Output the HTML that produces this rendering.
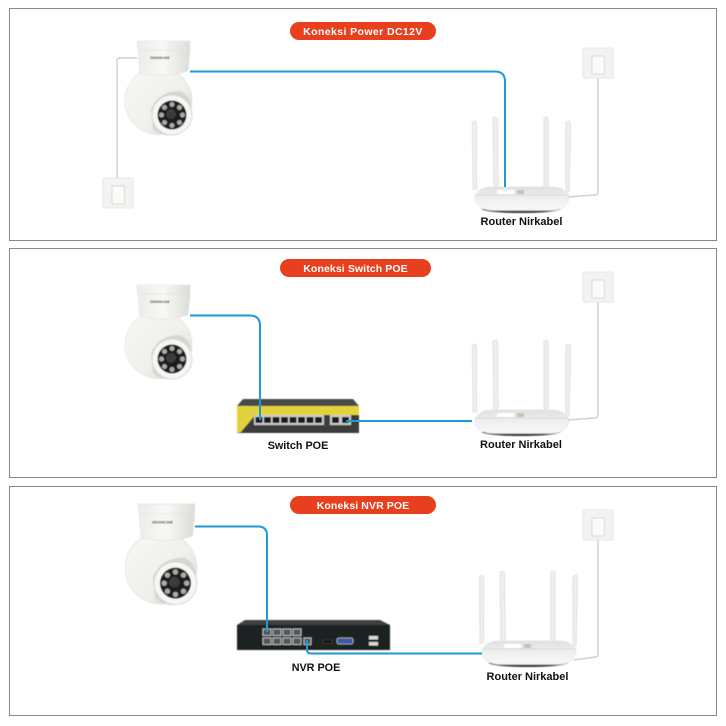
<!DOCTYPE html>
<html><head><meta charset="utf-8"><style>
html,body{margin:0;padding:0;background:#fff}
svg{display:block}
text{font-family:"Liberation Sans",Arial,sans-serif;font-weight:bold}
</style></head><body>
<svg xmlns="http://www.w3.org/2000/svg" width="726" height="726" viewBox="0 0 726 726">
<defs>
<filter id="b" x="-10%" y="-10%" width="120%" height="120%"><feGaussianBlur stdDeviation="0.5"/></filter>
<linearGradient id="ball" x1="0" y1="0" x2="1" y2="1"><stop offset="0" stop-color="#f8f8f6"/><stop offset="0.6" stop-color="#efefec"/><stop offset="1" stop-color="#cfcfca"/></linearGradient>
<linearGradient id="mnt" x1="0" y1="0" x2="1" y2="0"><stop offset="0" stop-color="#ececea"/><stop offset="0.5" stop-color="#f8f8f6"/><stop offset="1" stop-color="#dcdcd8"/></linearGradient>
<linearGradient id="rt" x1="0" y1="0" x2="0" y2="1"><stop offset="0" stop-color="#dfe0e0"/><stop offset="0.45" stop-color="#eeefef"/><stop offset="1" stop-color="#f8f8f8"/></linearGradient>
<g id="cam" filter="url(#b)">
<circle cx="21.5" cy="60" r="33.5" fill="url(#ball)" stroke="#dcdcd8" stroke-width="0.6"/>
<path d="M0 0 L53 0 L53 9 L51 30 Q30 37 3 32 L1 9Z" fill="url(#mnt)" stroke="#e0e0dc" stroke-width="0.6"/>
<path d="M1 9 L53 9" stroke="#e2e2de" stroke-width="0.8"/>
<text x="13" y="18" font-size="3.6" fill="#333">XIHANCAM</text>
<path d="M14 68 Q22 50 43 50 Q53 54 54 66 Q55 88 38 94 Q24 96 16 88Z" fill="#d6d6d2"/>
<circle cx="35" cy="74" r="20" fill="#f6f6f4" stroke="#cfcfcb" stroke-width="0.8"/>
<circle cx="35" cy="74" r="14.5" fill="#1d1d1f"/>
<circle cx="34" cy="73" r="5" fill="#3c3b3a"/>
<g fill="#a9aba8">
<circle cx="35" cy="63.5" r="2.5"/><circle cx="42.5" cy="66.5" r="2.5"/><circle cx="45.5" cy="74" r="2.5"/><circle cx="42.5" cy="81.5" r="2.5"/><circle cx="35" cy="84.5" r="2.5"/><circle cx="27.5" cy="81.5" r="2.5"/><circle cx="24.5" cy="74" r="2.5"/><circle cx="27.5" cy="66.5" r="2.5"/>
</g>
</g>
<g id="sock" filter="url(#b)">
<rect x="0" y="0" width="30" height="30" fill="#f3f3f1" stroke="#dededb" stroke-width="0.7"/>
<rect x="9" y="8" width="12.5" height="18" fill="#fbfbfa" stroke="#cfcfcc" stroke-width="0.8"/>
</g>
<g id="router">
<g fill="#f0f0ee" stroke="#cdcdcb" stroke-width="0.6" filter="url(#b)">
<path d="M-0.5 122 L2 121 L3.5 123 L3.5 189 L0 189Z"/>
<path d="M20 118 L23 117 L24.5 119 L25 186 L21 186Z"/>
<path d="M71 118 L74 117 L75 119 L75 186 L71 186Z"/>
<path d="M93 122 L96 121 L97.5 123 L96 192 L93 192Z"/>
</g>
<g filter="url(#b)">
<path d="M8 209 L88 209 Q80 213 48 213 Q16 213 8 209Z" fill="#3a3a3a"/>
<path d="M2 198 Q4 187 20 187 L78 187 Q93 187 96 198 Q94 210 78 210.5 L20 210.5 Q4 210 2 198Z" fill="url(#rt)" stroke="#d8d8d6" stroke-width="0.5"/>
<path d="M2 195 L96 195" stroke="#d0d0ce" stroke-width="0.7"/>
<rect x="24" y="190" width="17" height="4" fill="#fff"/>
<rect x="44" y="190" width="7" height="4" fill="#c7c2ad"/>
</g>
</g>
</defs>

<rect width="726" height="726" fill="#fff"/>
<g fill="#fff" stroke="#77797b" stroke-width="0.9">
<rect x="9.5" y="8.5" width="707" height="232"/>
<rect x="9.5" y="248.5" width="707" height="229"/>
<rect x="9.5" y="486.5" width="707" height="229"/>
</g>

<!-- pills -->
<g fill="#e8401f">
<rect x="290" y="22" width="146" height="18" rx="9"/>
<rect x="280" y="259" width="151" height="18" rx="9"/>
<rect x="290" y="496" width="146" height="18" rx="9"/>
</g>
<g fill="#fff" font-size="10.5" text-anchor="middle">
<text x="363" y="35" letter-spacing="0.4">Koneksi Power DC12V</text>
<text x="355.5" y="272" letter-spacing="0.1">Koneksi Switch POE</text>
<text x="363" y="509" letter-spacing="0.1">Koneksi NVR POE</text>
</g>

<!-- panel 1 -->
<path d="M137 58 L120 58 Q117 58 117 61 L117 180" fill="none" stroke="#d0d0ce" stroke-width="1.4"/>
<use href="#sock" x="103" y="178"/>
<use href="#cam" transform="translate(137,41)"/>
<path d="M598 76 L598 192 Q598 195 595 195 L567 197" fill="none" stroke="#d0d0ce" stroke-width="1.4"/>
<use href="#router" transform="translate(473,0)"/>
<use href="#sock" x="583" y="48"/>
<path d="M190 71.5 L495 71.5 Q505 71.5 505 81.5 L505 187" fill="none" stroke="#1d9bd6" stroke-width="2"/>
<text x="521.5" y="225" font-size="11" text-anchor="middle" fill="#111">Router Nirkabel</text>

<!-- panel 2 -->
<use href="#cam" transform="translate(137,285)"/>
<path d="M598 300 L598 415 Q598 418 595 418 L567 420" fill="none" stroke="#d0d0ce" stroke-width="1.4"/>
<use href="#router" transform="translate(473,223)"/>
<use href="#sock" x="583" y="272"/>
<g filter="url(#b)">
<path d="M243 399 L353 399 L359 406 L237 406Z" fill="#4a4b4b"/>
<rect x="237" y="406" width="122" height="27" fill="#3b3c3d"/>
<rect x="237" y="406" width="122" height="9" fill="#e3d23a"/>
<path d="M237 406 L256 406 L256 414 L241 432 L237 433Z" fill="#e3d23a"/>
<rect x="254" y="415" width="70" height="10" fill="#c8cacb"/>
<rect x="330" y="415" width="21" height="10" fill="#c8cacb"/>
<g fill="#1a1a1a">
<rect x="255.5" y="417" width="7" height="6"/><rect x="264" y="417" width="7" height="6"/><rect x="272.5" y="417" width="7" height="6"/><rect x="281" y="417" width="7" height="6"/><rect x="289.5" y="417" width="7" height="6"/><rect x="298" y="417" width="7" height="6"/><rect x="306.5" y="417" width="7" height="6"/><rect x="315" y="417" width="7" height="6"/>
<rect x="332" y="417" width="7" height="6"/><rect x="342" y="417" width="7" height="6"/>
</g>
</g>
<path d="M190 315.5 L250 315.5 Q260 315.5 260 325.5 L260 420" fill="none" stroke="#1d9bd6" stroke-width="2"/>
<path d="M346 421 L472 421" fill="none" stroke="#1d9bd6" stroke-width="2"/>
<text x="298" y="449" font-size="10.8" text-anchor="middle" fill="#111">Switch POE</text>
<text x="521" y="448" font-size="11" text-anchor="middle" fill="#111">Router Nirkabel</text>

<!-- panel 3 -->
<use href="#cam" transform="translate(138,504) scale(1.07)"/>
<path d="M598 538 L598 654 Q598 657 595 657 L574 660" fill="none" stroke="#d0d0ce" stroke-width="1.4"/>
<use href="#router" transform="translate(480,454)"/>
<use href="#sock" x="583" y="510"/>
<g filter="url(#b)">
<path d="M245 620 L380 620 L390 625 L237 625Z" fill="#3f4042"/>
<rect x="237" y="625" width="153" height="25" fill="#1f2022"/>
<g fill="#55575a" stroke="#b5b7b9" stroke-width="1">
<rect x="263" y="629" width="8" height="6.5"/><rect x="273" y="629" width="8" height="6.5"/><rect x="283" y="629" width="8" height="6.5"/><rect x="293" y="629" width="8" height="6.5"/>
<rect x="263" y="638" width="8" height="6.5"/><rect x="273" y="638" width="8" height="6.5"/><rect x="283" y="638" width="8" height="6.5"/><rect x="293" y="638" width="8" height="6.5"/>
<rect x="304" y="638" width="7" height="6.5"/>
</g>
<rect x="323" y="640" width="9" height="3" fill="#0b0b0b" stroke="#666" stroke-width="0.4"/>
<rect x="337" y="638" width="16" height="6" rx="2" fill="#3b56a8" stroke="#bbb" stroke-width="0.8"/>
<rect x="369" y="636" width="9" height="3.5" fill="#d8d8d8"/>
<rect x="369" y="642" width="9" height="3.5" fill="#d8d8d8"/>
</g>
<path d="M195 526.5 L258 526.5 Q267 526.5 267 535.5 L267 632" fill="none" stroke="#1d9bd6" stroke-width="2"/>
<path d="M307 640 L307 650 Q307 653.5 311 653.5 L482 653.5" fill="none" stroke="#1d9bd6" stroke-width="2"/>
<text x="316" y="671" font-size="10.8" text-anchor="middle" fill="#111">NVR POE</text>
<text x="527.5" y="680" font-size="11" text-anchor="middle" fill="#111">Router Nirkabel</text>
</svg>
</body></html>
